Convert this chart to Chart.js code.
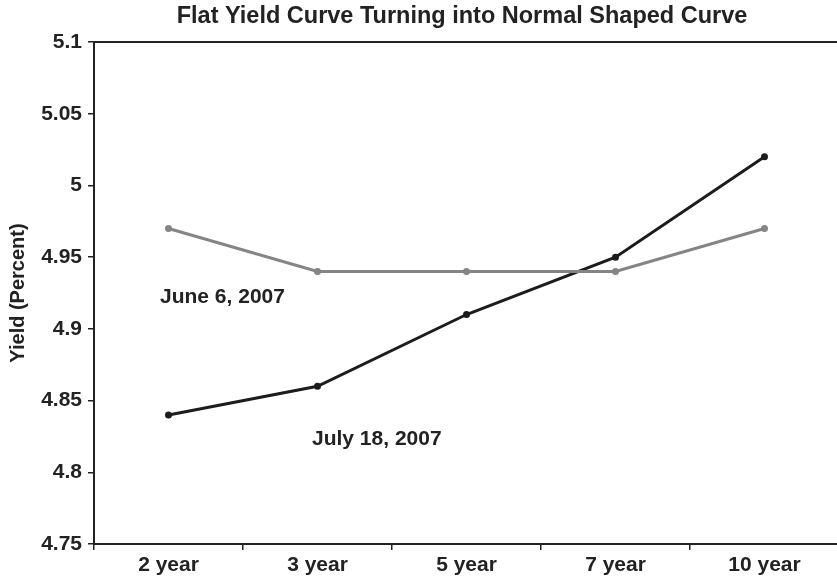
<!DOCTYPE html>
<html>
<head>
<meta charset="utf-8">
<script src="https://cdn.jsdelivr.net/npm/chart.js@4"></script>
<style>
  body { margin: 0; background: #fff; }
  #wrap { width: 837px; height: 580px; overflow: hidden; }
</style>
</head>
<body>
<div id="wrap"><canvas id="yield-chart" width="846" height="580"></canvas></div>
<script>
var chartTitle = 'Flat Yield Curve Turning into Normal Shaped Curve';
var maturities = ['2 year', '3 year', '5 year', '7 year', '10 year'];
var june6 = [4.97, 4.94, 4.94, 4.94, 4.97];
var july18 = [4.84, 4.86, 4.91, 4.95, 5.02];
var yMin = 4.75, yMax = 5.1, yStep = 0.05;

var fontFamily = '"Liberation Sans", Arial, sans-serif';

// title over the plot area, top border and the two date labels
var decorations = {
    id: 'decorations',
    afterDraw: function(chart) {
        var ctx = chart.ctx;
        var area = chart.chartArea;
        ctx.save();
        ctx.strokeStyle = '#222';
        ctx.lineWidth = 2;
        ctx.beginPath();
        ctx.moveTo(area.left, area.top);
        ctx.lineTo(area.right, area.top);
        ctx.stroke();

        ctx.fillStyle = '#222';
        ctx.textBaseline = 'middle';
        ctx.textAlign = 'center';
        ctx.font = 'bold 23.5px ' + fontFamily;
        ctx.fillText(chartTitle, 462, 17);

        ctx.textAlign = 'left';
        ctx.font = 'bold 21px ' + fontFamily;
        ctx.fillText('June 6, 2007', 160, 297);
        ctx.fillText('July 18, 2007', 312, 439);
        ctx.restore();
    }
};

var ctx = document.getElementById('yield-chart').getContext('2d');
var yieldChart = new Chart(ctx, {
    type: 'line',
    data: {
        labels: maturities,
        datasets: [{
            label: 'June 6, 2007',
            data: june6,
            borderColor: '#858585',
            backgroundColor: '#858585',
            borderWidth: 3,
            pointRadius: 2,
            tension: 0,
            fill: false
        }, {
            label: 'July 18, 2007',
            data: july18,
            borderColor: '#1c1c1c',
            backgroundColor: '#1c1c1c',
            borderWidth: 3,
            pointRadius: 2,
            tension: 0,
            fill: false
        }]
    },
    options: {
        responsive: false,
        animation: false,
        layout: { padding: { top: 42, right: 0, left: 0, bottom: 0 } },
        plugins: {
            legend: { display: false },
            title: { display: false },
            tooltip: { enabled: false }
        },
        scales: {
            x: {
                offset: true,
                grid: {
                    offset: true,
                    drawOnChartArea: false,
                    drawTicks: true,
                    tickLength: 6,
                    color: '#222',
                    lineWidth: 1.5
                },
                border: { display: true, color: '#222', width: 2 },
                ticks: {
                    color: '#222',
                    font: { family: fontFamily, size: 21, weight: 'bold' },
                    padding: 3,
                    maxRotation: 0
                },
                afterFit: function(scale) { scale.height = 36; }
            },
            y: {
                min: yMin,
                max: yMax,
                grid: {
                    drawOnChartArea: false,
                    drawTicks: true,
                    tickLength: 6,
                    color: '#222',
                    lineWidth: 1.5
                },
                border: { display: true, color: '#222', width: 2 },
                ticks: {
                    stepSize: yStep,
                    color: '#222',
                    padding: 6,
                    font: { family: fontFamily, size: 21, weight: 'bold' },
                    callback: function(value) { return String(parseFloat(value.toFixed(2))); }
                },
                title: {
                    display: true,
                    text: 'Yield (Percent)',
                    color: '#222',
                    font: { family: fontFamily, size: 20, weight: 'bold' },
                    padding: { top: 6, bottom: 0 }
                },
                afterFit: function(scale) { scale.width = 94; }
            }
        }
    },
    plugins: [decorations]
});
</script>
</body>
</html>
